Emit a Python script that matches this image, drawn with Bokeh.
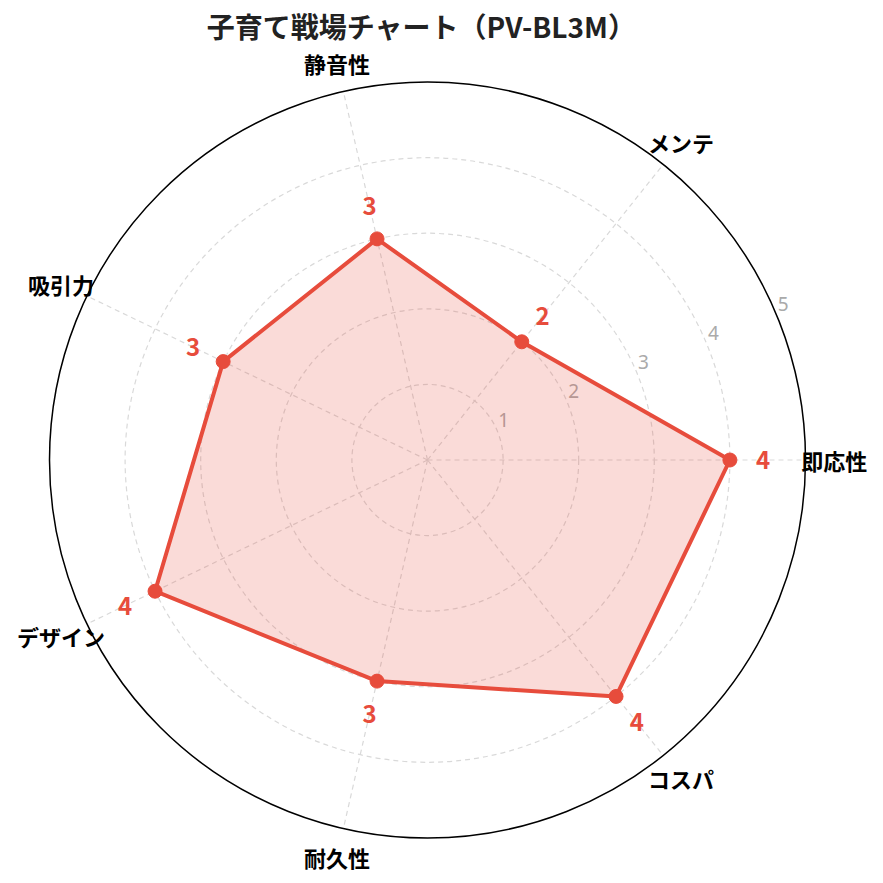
import numpy as np
from bokeh.plotting import figure
from bokeh.core.properties import value
from bokeh.embed import file_html
from bokeh.resources import INLINE

# ---- data ----
title_text = "子育て戦場チャート（PV-BL3M）"
categories = ["即応性", "メンテ", "静音性", "吸引力", "デザイン", "耐久性", "コスパ"]
scores = [4, 2, 3, 3, 4, 3, 4]
ring_values = [1, 2, 3, 4, 5]
ring_labels = ["1", "2", "3", "4", "5"]
r_max = 5

RED = "#e74c3c"
FONT = "Noto Sans CJK JP"

# ---- geometry (px per unit and centre) ----
W = H = 875
scale = 75.6
cx_px, cy_px = 427.0, 459.5
x0 = -cx_px / scale
x1 = (W - cx_px) / scale
y1 = cy_px / scale
y0 = -(H - cy_px) / scale

p = figure(width=W, height=H, x_range=(x0, x1), y_range=(y0, y1),
           output_backend="svg", toolbar_location=None, min_border=0,
           background_fill_color="white", border_fill_color="white")
p.axis.visible = False
p.grid.visible = False
p.outline_line_color = None

n = len(categories)
ang = np.arange(n) * 2 * np.pi / n

# rings
inner = ring_values[:-1]
p.circle(x=[0] * len(inner), y=[0] * len(inner), radius=inner,
         fill_color=None, line_color="#d9d9d9", line_width=1.2, line_dash="5 4")
p.circle(x=[0], y=[0], radius=[r_max], fill_color=None,
         line_color="black", line_width=1.5)

# spokes
p.segment(x0=[0] * n, y0=[0] * n, x1=list(r_max * np.cos(ang)),
          y1=list(r_max * np.sin(ang)), line_color="#d9d9d9",
          line_width=1.2, line_dash="5 4")

# ring labels at 22.5 deg
ra = np.deg2rad(22.5)
p.text(x=list(np.array(ring_values) * np.cos(ra)),
       y=list(np.array(ring_values) * np.sin(ra)), text=ring_labels,
       text_font=value("Noto Sans"), text_font_size="19px",
       text_color="#aaaaaa", text_align="left", text_baseline="alphabetic",
       x_offset=1, y_offset=-11)

# data polygon
sc = np.array(scores, dtype=float)
xs = sc * np.cos(ang)
ys = sc * np.sin(ang)
p.patch(x=list(xs), y=list(ys), fill_color=RED, fill_alpha=0.2, line_color=None)
p.line(x=list(xs) + [xs[0]], y=list(ys) + [ys[0]], line_color=RED, line_width=4)
p.scatter(x=list(xs), y=list(ys), size=14, fill_color=RED, line_color=RED)

# value labels
vr = sc + 0.44
p.text(x=list(vr * np.cos(ang)), y=list(vr * np.sin(ang)),
       text=[str(s) for s in scores], text_font=value(FONT),
       text_font_style="bold", text_font_size="24px", text_color=RED,
       text_align="center", text_baseline="middle")

# category labels
cr = 5.38
p.text(x=list(cr * np.cos(ang)), y=list(cr * np.sin(ang)), text=categories,
       text_font=value(FONT), text_font_style="bold", text_font_size="22px",
       text_color="black", text_align="center", text_baseline="middle")

# title
p.text(x=[-6 / scale], y=[(459.5 - 25) / scale], text=[title_text],
       text_font=value(FONT), text_font_style="bold", text_font_size="28px",
       text_color="#222222", text_align="center", text_baseline="middle")

open("out.html", "w").write(file_html(p, INLINE))
